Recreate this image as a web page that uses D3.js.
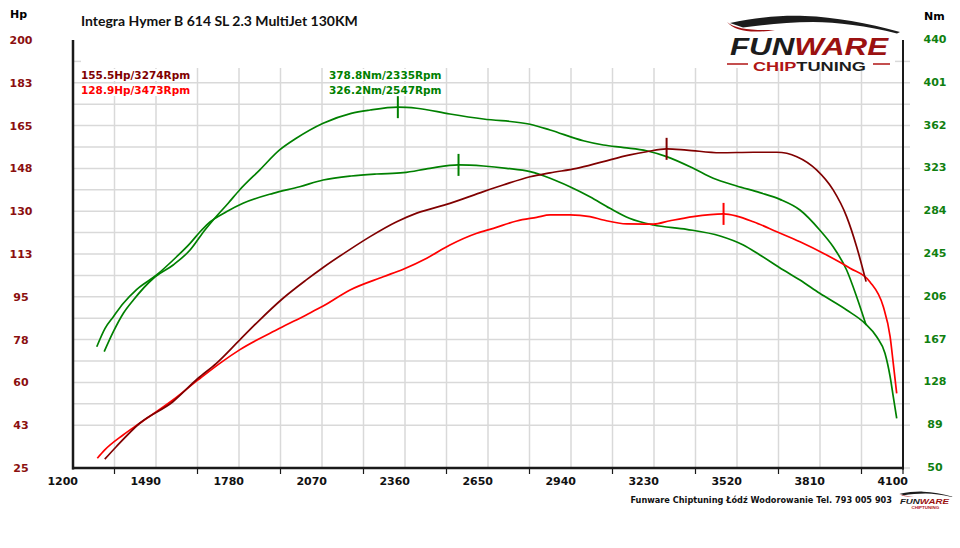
<!DOCTYPE html>
<html>
<head>
<meta charset="utf-8">
<script src="https://cdn.jsdelivr.net/npm/d3@7"></script>
<style>
  html, body { margin: 0; padding: 0; background: #fff; }
  svg { display: block; }
</style>
</head>
<body>
<script>

//------------------------------------------------------------------------------
//
// Data
//
//------------------------------------------------------------------------------

var title = "Integra Hymer B 614 SL 2.3 MultiJet 130KM";
var footer = "Funware Chiptuning Łódź Wodorowanie Tel. 793 005 903";

var rpmTicks = [1200, 1490, 1780, 2070, 2360, 2650, 2940, 3230, 3520, 3810, 4100];
var hpTicks = [25, 42.5, 60, 77.5, 95, 112.5, 130, 147.5, 165, 182.5, 200];
var nmTicks = [50, 89, 128, 167, 206, 245, 284, 323, 362, 401, 440];

// [rpm, Hp]
var tunedHp = [
  [1311,28.6],[1351,33.7],[1433,43.3],[1549,52.1],[1637,61.7],[1701,67.8],[1782,77.3],
  [1852,85.5],[1934,94.4],[2015,101.9],[2074,107.0],[2168,114.4],[2238,119.6],[2331,125.7],
  [2401,129.2],[2517,133.2],[2634,138.0],[2703,140.7],[2797,144.1],[2867,145.7],[2960,147.5],
  [3053,150.3],[3146,153.0],[3204,154.3],[3274,155.5],[3344,155.0],[3461,153.9],[3577,154.1],
  [3659,154.1],[3729,152.3],[3798,146.9],[3856,138.7],[3903,127.8],[3938,115.5],[3971,101.2]
];
var stockHp = [
  [1285,29.0],[1311,32.4],[1375,38.5],[1433,43.3],[1549,52.8],[1637,61.0],[1713,67.8],
  [1782,73.3],[1922,82.1],[2015,87.6],[2074,91.2],[2168,97.8],[2284,103.2],[2354,106.3],
  [2436,110.8],[2517,116.2],[2611,121.0],[2669,123.0],[2750,126.0],[2820,127.5],[2867,128.5],
  [2937,128.5],[3006,127.8],[3053,126.4],[3135,124.8],[3228,124.7],[3286,126.1],[3367,127.8],
  [3473,128.9],[3519,128.0],[3577,125.7],[3659,121.6],[3740,117.5],[3833,112.1],[3915,106.7],
  [3984,101.2],[4031,91.0],[4055,78.7],[4066,67.8],[4078,55.5]
];

// [rpm, Nm]
var tunedNm = [
  [1309,156.0],[1341,174.2],[1376,191.0],[1411,203.1],[1481,222.9],[1550,235.0],[1609,248.6],
  [1661,266.9],[1690,276.0],[1743,291.5],[1782,303.3],[1852,321.5],[1922,339.8],[1980,350.4],
  [2074,364.1],[2172,373.2],[2238,376.2],[2335,378.8],[2401,377.8],[2517,372.6],[2634,368.0],
  [2797,363.2],[2867,358.0],[2983,348.2],[3053,344.3],[3125,342.0],[3204,339.1],[3274,333.7],
  [3367,323.1],[3437,314.0],[3519,307.0],[3600,300.9],[3670,294.8],[3740,285.1],[3809,266.9],
  [3856,251.6],[3903,230.4],[3938,206.1],[3971,180.3]
];
var stockNm = [
  [1283,160.5],[1312,177.3],[1341,187.9],[1376,200.1],[1423,212.8],[1492,225.9],[1562,242.5],
  [1609,254.7],[1644,265.3],[1673,273.0],[1736,283.5],[1794,291.2],[1899,300.3],[1992,306.3],
  [2074,312.4],[2172,316.1],[2261,317.9],[2354,319.1],[2447,323.1],[2547,326.2],[2634,325.2],
  [2715,323.1],[2797,320.0],[2867,314.0],[2936,306.3],[3006,297.2],[3076,286.6],[3144,277.5],
  [3228,271.4],[3344,267.5],[3461,261.4],[3542,253.2],[3600,244.1],[3682,230.4],[3740,221.3],
  [3809,209.2],[3903,194.0],[3967,181.8],[4008,169.6],[4037,154.5],[4055,133.2],[4066,115.0],
  [4078,95.3]
];

var peakLabels = ["155.5Hp/3274Rpm", "128.9Hp/3473Rpm", "378.8Nm/2335Rpm", "326.2Nm/2547Rpm"];
var peakRpm = [3274, 3473, 2335, 2547];
var peakValue = [155.5, 128.9, 378.8, 326.2];


//------------------------------------------------------------------------------
//
// Chart
//
//------------------------------------------------------------------------------

var W = 960, H = 548;
var font = "'DejaVu Sans', Verdana, sans-serif";
var logoFont = "'Liberation Sans', Arial, sans-serif";
var darkRed = "#800000", red = "#ff0000", green = "#008000";

var x = d3.scaleLinear().domain([1200, 4100]).range([73, 903]);
var yHp = d3.scaleLinear().domain([25, 200]).range([468, 40]);
var yNm = d3.scaleLinear().domain([50, 440]).range([468, 40]);

var series = [
  {data: stockNm, y: yNm, color: green},
  {data: tunedNm, y: yNm, color: green},
  {data: stockHp, y: yHp, color: red},
  {data: tunedHp, y: yHp, color: darkRed}
];

var peaks = [
  {label: peakLabels[0], rpm: peakRpm[0], v: peakValue[0], y: yHp, color: darkRed, lx: 81, ly: 79},
  {label: peakLabels[1], rpm: peakRpm[1], v: peakValue[1], y: yHp, color: red, lx: 81, ly: 94},
  {label: peakLabels[2], rpm: peakRpm[2], v: peakValue[2], y: yNm, color: green, lx: 329, ly: 79},
  {label: peakLabels[3], rpm: peakRpm[3], v: peakValue[3], y: yNm, color: green, lx: 329, ly: 94}
];

var svg = d3.select("body").append("svg")
  .attr("width", W)
  .attr("height", H)
  .style("font-family", font);

svg.append("rect").attr("width", W).attr("height", H).attr("fill", "#fff");

//--------------------------------------
// Grid
//--------------------------------------

var grid = svg.append("g")
  .attr("stroke", "#d9d9d9")
  .attr("stroke-width", 1.5);

var hLines = d3.range(25 + 8.75 * 2, 200 - 8.75, 8.75);
grid.selectAll(".h").data(hLines).enter().append("line")
  .attr("x1", 73).attr("x2", 910)
  .attr("y1", function(d) { return yHp(d); })
  .attr("y2", function(d) { return yHp(d); });

// top half-step only gets short ticks
var topTick = yHp(191.25);
grid.append("line").attr("x1", 73).attr("x2", 81).attr("y1", topTick).attr("y2", topTick);
grid.append("line").attr("x1", 895).attr("x2", 910).attr("y1", topTick).attr("y2", topTick);
grid.append("line").attr("x1", 903).attr("x2", 910).attr("y1", 468).attr("y2", 468);

var vLines = d3.range(1345, 4100, 145);
grid.selectAll(".v").data(vLines).enter().append("line")
  .attr("x1", function(d) { return x(d); })
  .attr("x2", function(d) { return x(d); })
  .attr("y1", 68).attr("y2", 468);

//--------------------------------------
// Axes
//--------------------------------------

var axes = svg.append("g").attr("stroke", "#1a1a1a");
axes.append("line").attr("x1", 73).attr("x2", 73).attr("y1", 40).attr("y2", 469.5).attr("stroke-width", 2.5);
axes.append("line").attr("x1", 903).attr("x2", 903).attr("y1", 40).attr("y2", 469.5).attr("stroke-width", 2);
axes.append("line").attr("x1", 72).attr("x2", 904).attr("y1", 468).attr("y2", 468).attr("stroke-width", 2.5);

var minor = d3.range(1345, 4100, 290).concat([4100]);
axes.selectAll(".mt").data(minor).enter().append("line")
  .attr("stroke-width", 1.2)
  .attr("x1", function(d) { return x(d); })
  .attr("x2", function(d) { return x(d); })
  .attr("y1", 468).attr("y2", 474);

svg.append("g").selectAll("text").data(rpmTicks).enter().append("text")
  .attr("x", function(d) { return x(d) + 5; })
  .attr("y", 485)
  .attr("text-anchor", "end")
  .attr("font-size", 11).attr("font-weight", "bold")
  .attr("fill", "#111")
  .text(function(d) { return d; });

svg.append("g").selectAll("text").data(hpTicks).enter().append("text")
  .attr("x", 21)
  .attr("y", function(d) { return yHp(d) + 4; })
  .attr("text-anchor", "middle")
  .attr("font-size", 11).attr("font-weight", "bold")
  .attr("fill", "#8b0f0f")
  .text(function(d) { return Math.round(d); });

svg.append("g").selectAll("text").data(nmTicks).enter().append("text")
  .attr("x", 935)
  .attr("y", function(d) { return yNm(d) + 3; })
  .attr("text-anchor", "middle")
  .attr("font-size", 11).attr("font-weight", "bold")
  .attr("fill", "#108010")
  .text(function(d) { return d; });

svg.append("text").attr("x", 10).attr("y", 18)
  .attr("font-size", 11).attr("font-weight", "bold").attr("fill", "#000").text("Hp");
svg.append("text").attr("x", 924).attr("y", 20)
  .attr("font-size", 11).attr("font-weight", "bold").attr("fill", "#000").text("Nm");

svg.append("text").attr("x", 81).attr("y", 26)
  .attr("font-family", "Lato, 'Open Sans', sans-serif")
  .attr("font-size", 14).attr("font-weight", "bold").attr("fill", "#111")
  .text(title);

//--------------------------------------
// Curves
//--------------------------------------

var curves = svg.append("g").attr("fill", "none");
series.forEach(function(s) {
  var line = d3.line()
    .x(function(d) { return x(d[0]); })
    .y(function(d) { return s.y(d[1]); })
    .curve(d3.curveMonotoneX);
  curves.append("path")
    .attr("d", line(s.data))
    .attr("stroke", s.color)
    .attr("stroke-width", 1.7)
    .attr("stroke-linejoin", "round");
});

//--------------------------------------
// Peaks
//--------------------------------------

peaks.forEach(function(p) {
  var px = x(p.rpm), py = p.y(p.v);
  svg.append("line")
    .attr("x1", px).attr("x2", px)
    .attr("y1", py - 11).attr("y2", py + 11)
    .attr("stroke", p.color).attr("stroke-width", 2);

  var g = svg.append("g");
  var bg = g.append("rect").attr("fill", "#fff");
  var t = g.append("text")
    .attr("x", p.lx).attr("y", p.ly)
    .attr("font-size", 10.5).attr("font-weight", "bold")
    .attr("fill", p.color)
    .text(p.label);
  var b = t.node().getBBox();
  bg.attr("x", b.x - 1).attr("y", b.y).attr("width", b.width + 2).attr("height", b.height);
});

//--------------------------------------
// Logo
//--------------------------------------

function logo(g, full) {
  g.append("path")
    .attr("d", "M3,6 C30,0 58,-2 78,-1 C108,0 140,6 173,15 L170,16.5 C140,9 110,5 86,5 C60,5 36,8 16,10.5 Z")
    .attr("fill", "#1c1c1c");
  g.append("path")
    .attr("d", "M0,5 C8,12 25,13.5 48,13 C25,16.5 8,14.5 0,5 Z")
    .attr("fill", "#a01010");
  var t1 = g.append("text")
    .attr("x", 3).attr("y", 38)
    .attr("font-family", logoFont)
    .attr("font-size", 24).attr("font-weight", "bold").attr("font-style", "italic")
    .attr("textLength", 158).attr("lengthAdjust", "spacingAndGlyphs");
  t1.append("tspan").attr("fill", "#1c1c1c").text("FUN");
  t1.append("tspan").attr("fill", "#9b1111").text("WARE");
  if (full) {
    var t2 = g.append("text")
      .attr("x", 26).attr("y", 54)
      .attr("font-family", logoFont)
      .attr("font-size", 12).attr("font-weight", "bold")
      .attr("textLength", 113).attr("lengthAdjust", "spacingAndGlyphs");
    t2.append("tspan").attr("fill", "#b01515").text("CHIP");
    t2.append("tspan").attr("fill", "#1c1c1c").text("TUNING");
    g.append("line").attr("x1", 0).attr("x2", 21).attr("y1", 47).attr("y2", 47)
      .attr("stroke", "#b01515").attr("stroke-width", 1.5);
    g.append("line").attr("x1", 146).attr("x2", 163).attr("y1", 47).attr("y2", 47)
      .attr("stroke", "#b01515").attr("stroke-width", 1.5);
  } else {
    g.append("text")
      .attr("x", 40).attr("y", 54)
      .attr("font-family", logoFont)
      .attr("font-size", 12).attr("font-weight", "bold")
      .attr("fill", "#b01515")
      .attr("textLength", 90).attr("lengthAdjust", "spacingAndGlyphs")
      .text("CHIPTUNING");
  }
}

logo(svg.append("g").attr("transform", "translate(727,17)"), true);
logo(svg.append("g").attr("transform", "translate(899,492) scale(0.31)"), false);

svg.append("text")
  .attr("x", 892).attr("y", 503)
  .attr("text-anchor", "end")
  .attr("font-size", 8.2).attr("font-weight", "bold").attr("fill", "#111")
  .text(footer);

</script>
</body>
</html>
